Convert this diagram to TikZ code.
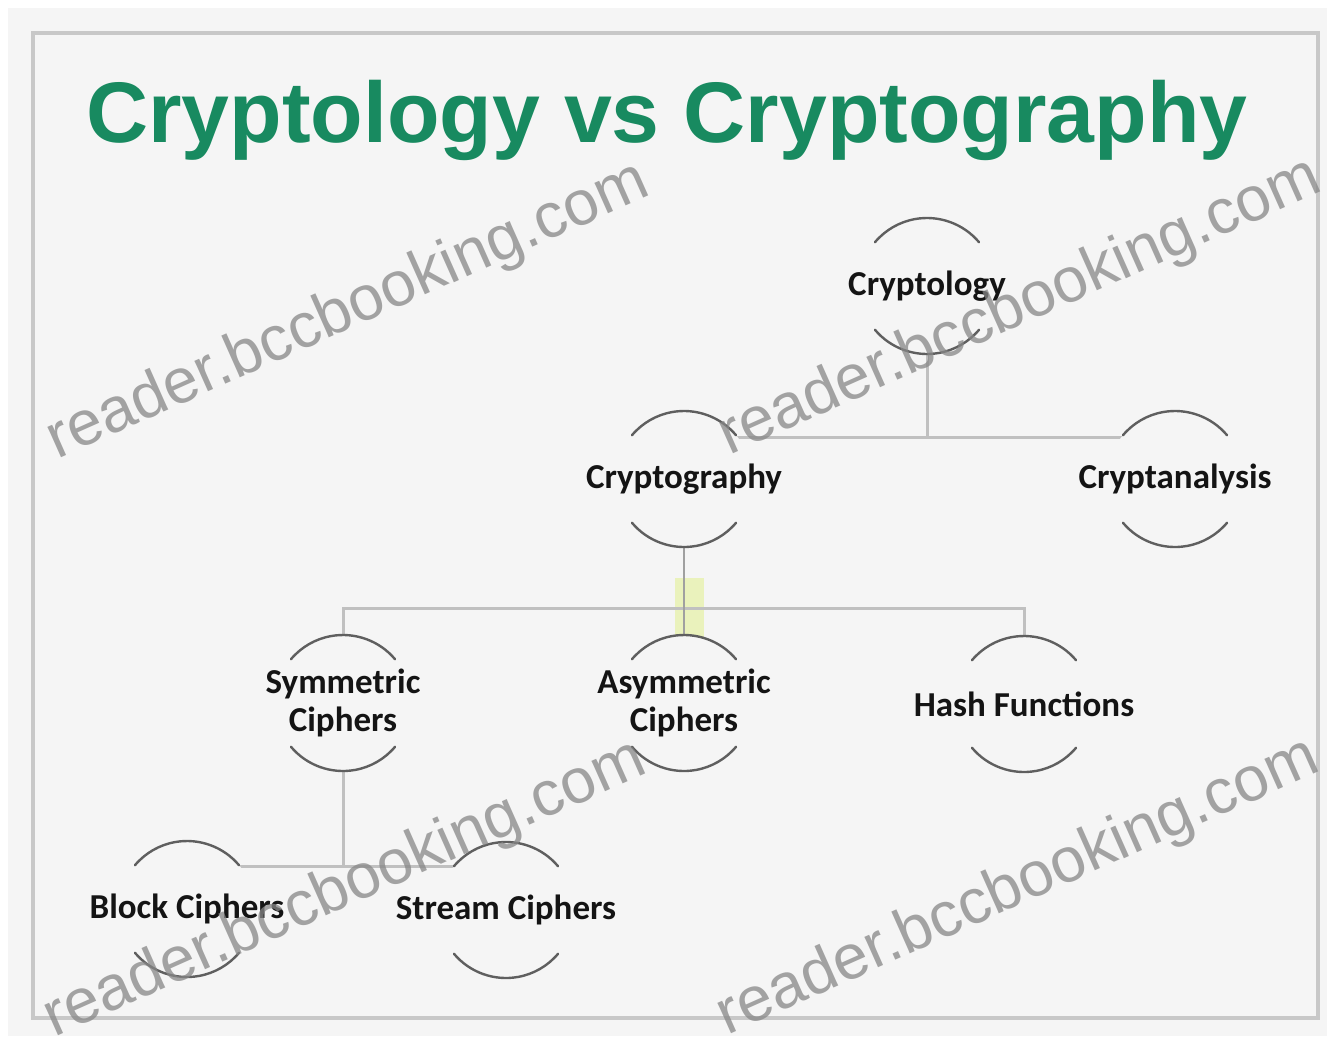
\documentclass[tikz,border=0pt]{standalone}
\usepackage{fontspec}
\setmainfont{Carlito}
\newfontfamily\titlefont{Liberation Sans}
\usetikzlibrary{backgrounds,calc}
\definecolor{bg}{RGB}{245,245,245}
\definecolor{titlegreen}{RGB}{24,138,96}
\definecolor{connc}{RGB}{192,192,192}
\definecolor{conndark}{RGB}{160,160,160}
\definecolor{arcc}{RGB}{95,95,95}
\definecolor{framec}{RGB}{200,200,200}
\definecolor{wmc}{RGB}{135,135,135}
\definecolor{hilite}{RGB}{234,242,188}
\newcommand\nodearcs[1]{%
  \fill[bg] (#1.center) circle (68pt);
  \draw[arcline] ($(#1.center)+(40:68pt)$) arc (40:140:68pt);
  \draw[arcline] ($(#1.center)+(220:68pt)$) arc (220:320:68pt);}
\begin{document}
\begin{tikzpicture}[x=1pt,y=-1pt,
  lbl/.style={font=\fontsize{35}{38}\selectfont\bfseries, text=black!92, align=center, inner sep=0pt},
  conn/.style={draw=connc, line width=3pt},
  conndk/.style={draw=conndark, line width=2.5pt},
  arcline/.style={draw=arcc, line width=2.4pt, line cap=round},
  wm/.style={font=\titlefont\fontsize{63}{63}\selectfont, text=wmc, rotate=24, opacity=0.75, inner sep=0pt},
  titlest/.style={font=\titlefont\bfseries\fontsize{86}{86}\selectfont, text=titlegreen, anchor=base}]

\useasboundingbox (0,0) rectangle (1327,1036);

% title
\node[titlest] (title) at (667,142) {Cryptology vs Cryptography};

% tree nodes
\node[lbl] (cryptology)   at (927,286) {Cryptology};
\node[lbl] (cryptography) at (684,479) {Cryptography};
\node[lbl] (cryptanalysis) at (1175,479) {Cryptanalysis};
\node[lbl] (sym)  at (343,703) {Symmetric\\Ciphers};
\node[lbl] (asym) at (684,703) {Asymmetric\\Ciphers};
\node[lbl] (hash) at (1024,704) {Hash Functions};
\node[lbl] (block)  at (187,909) {Block Ciphers};
\node[lbl] (stream) at (506,910) {Stream Ciphers};

\coordinate (bus1) at (0,437);
\coordinate (bus2) at (0,608);
\coordinate (bus3) at (0,866);

\begin{pgfonlayer}{background}
  \fill[white] (0,0) rectangle (1327,1036);
  \fill[bg] (8,8) rectangle (1327,1036);
  \draw[framec, line width=3.5pt] (33,33) rectangle (1318,1018);
  \fill[hilite] (675,578) rectangle (704,640);
  % connectors
  \draw[conn] (cryptology.center) -- (cryptology.center |- bus1);
  \draw[conn] (cryptography.center) -- (cryptography.center |- bus1) -- (cryptanalysis.center |- bus1) -- (cryptanalysis.center);
  \draw[conn] (sym.center) -- (sym.center |- bus2) -- (hash.center |- bus2) -- (hash.center);
  \draw[conndk] (cryptography.center) -- (asym.center);
  \draw[conn] (sym.center) -- (sym.center |- bus3);
  \draw[conn] (block.center) -- (block.center |- bus3) -- (stream.center |- bus3) -- (stream.center);
  % node arcs
  \nodearcs{cryptology}
  \nodearcs{cryptography}
  \nodearcs{cryptanalysis}
  \nodearcs{sym}
  \nodearcs{asym}
  \nodearcs{hash}
  \nodearcs{block}
  \nodearcs{stream}
\end{pgfonlayer}

% watermarks
\node[wm] (wm1) at (348,312) {reader.bccbooking.com};
\node[wm] (wm2) at (1020,308) {reader.bccbooking.com};
\node[wm] (wm3) at (345,890) {reader.bccbooking.com};
\node[wm] (wm4) at (1018,888) {reader.bccbooking.com};
\end{tikzpicture}
\end{document}
